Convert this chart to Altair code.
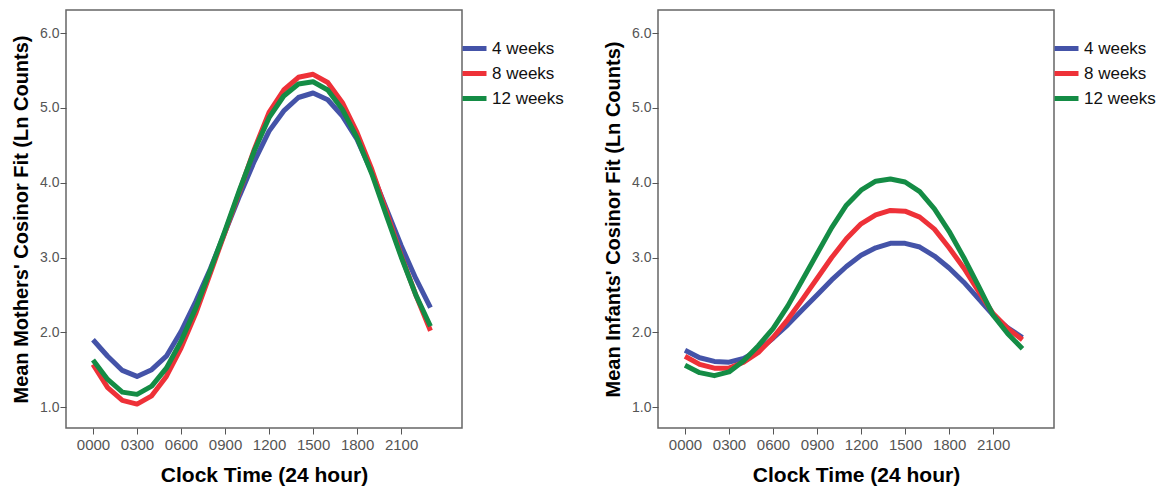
import altair as alt
import pandas as pd

hours = list(range(24))
series_labels = ["4 weeks", "8 weeks", "12 weeks"]
series_colors = ["#4453A8", "#EE3138", "#148C45"]

mothers_4w = [1.90, 1.68, 1.49, 1.41, 1.50, 1.68, 2.01, 2.41, 2.85, 3.34, 3.83, 4.29,
              4.69, 4.96, 5.14, 5.20, 5.11, 4.89, 4.58, 4.14, 3.65, 3.16, 2.72, 2.33]
mothers_8w = [1.57, 1.26, 1.09, 1.04, 1.15, 1.41, 1.79, 2.25, 2.79, 3.34, 3.89, 4.45,
              4.94, 5.24, 5.41, 5.45, 5.34, 5.07, 4.67, 4.18, 3.61, 3.03, 2.50, 2.02]
mothers_12w = [1.63, 1.37, 1.20, 1.17, 1.28, 1.52, 1.88, 2.32, 2.83, 3.36, 3.91, 4.43,
               4.87, 5.16, 5.32, 5.35, 5.24, 4.98, 4.60, 4.12, 3.56, 3.01, 2.50, 2.08]

infants_4w = [1.76, 1.66, 1.61, 1.60, 1.65, 1.76, 1.92, 2.10, 2.30, 2.50, 2.70, 2.88,
              3.03, 3.13, 3.19, 3.19, 3.14, 3.02, 2.86, 2.67, 2.45, 2.23, 2.06, 1.93]
infants_8w = [1.68, 1.57, 1.52, 1.52, 1.60, 1.73, 1.93, 2.17, 2.44, 2.72, 3.00, 3.25,
              3.45, 3.57, 3.63, 3.62, 3.54, 3.38, 3.13, 2.86, 2.55, 2.25, 2.05, 1.90]
infants_12w = [1.56, 1.46, 1.42, 1.47, 1.62, 1.82, 2.05, 2.35, 2.70, 3.05, 3.40, 3.70,
               3.90, 4.02, 4.05, 4.01, 3.88, 3.65, 3.35, 3.00, 2.62, 2.23, 1.98, 1.78]

x_tick_values = [0, 3, 6, 9, 12, 15, 18, 21]
x_tick_labels = ["0000", "0300", "0600", "0900", "1200", "1500", "1800", "2100"]
y_tick_values = [1, 2, 3, 4, 5, 6]

FONT = "Liberation Sans"
label_expr = "[" + ",".join("'%s'" % s for s in x_tick_labels) + "][indexof(" + \
    "[" + ",".join(str(v) for v in x_tick_values) + "], datum.value)]"


def make_df(series):
    rows = []
    for label, vals in zip(series_labels, series):
        for h, v in zip(hours, vals):
            rows.append({"hour": h, "value": v, "group": label})
    return pd.DataFrame(rows)


def panel(series, ytitle):
    df = make_df(series)
    return alt.Chart(df).mark_line(strokeWidth=5, strokeJoin="round").encode(
        x=alt.X("hour:Q",
                scale=alt.Scale(domain=[-1.84, 25.15], nice=False, zero=False),
                axis=alt.Axis(values=x_tick_values, labelExpr=label_expr,
                              title="Clock Time (24 hour)", grid=False, domain=False,
                              tickSize=6, tickColor="#555", labelColor="#555",
                              labelFont=FONT, labelFontSize=15, labelPadding=3,
                              titleFont=FONT, titleFontSize=21, titleFontWeight="bold",
                              titleColor="#000", titlePadding=12)),
        y=alt.Y("value:Q",
                scale=alt.Scale(domain=[0.72, 6.31], nice=False, zero=False),
                axis=alt.Axis(values=y_tick_values, format=".1f", title=ytitle,
                              grid=False, domain=False, tickSize=6, tickColor="#555",
                              labelColor="#555", labelFont=FONT, labelFontSize=14,
                              labelPadding=1, titleFont=FONT, titleFontSize=20,
                              titleFontWeight="bold", titleColor="#000",
                              titlePadding=8)),
        color=alt.Color("group:N",
                        scale=alt.Scale(domain=series_labels, range=series_colors),
                        legend=alt.Legend(title=None, orient="none", legendX=394,
                                          legendY=24, symbolType="stroke",
                                          symbolStrokeWidth=5, symbolSize=576,
                                          labelFont=FONT, labelFontSize=17,
                                          labelColor="#111", labelOffset=3,
                                          rowPadding=0, padding=0)),
    ).properties(width=396, height=418,
                 view=alt.ViewBackground(stroke="#666", strokeWidth=1.5, fill="white"))


left = panel([mothers_4w, mothers_8w, mothers_12w], "Mean Mothers' Cosinor Fit (Ln Counts)")
right = panel([infants_4w, infants_8w, infants_12w], "Mean Infants' Cosinor Fit (Ln Counts)")

chart = alt.hconcat(left, right, spacing=37).resolve_scale(color="independent").resolve_legend(
    color="independent"
).properties(
    padding={"left": 2, "top": 1, "right": 0, "bottom": 0}
).configure_view(stroke="#666", strokeWidth=1.5).configure(background="white")

chart.save("out.html", embed_options={"renderer": "svg", "actions": False})
